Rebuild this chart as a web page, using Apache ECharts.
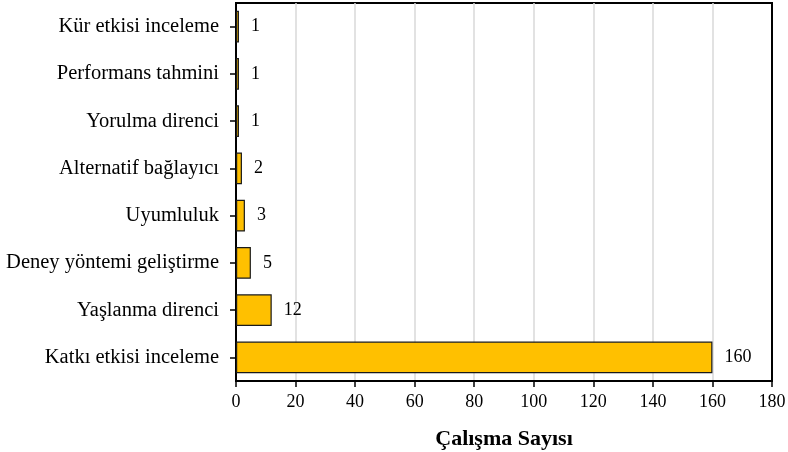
<!DOCTYPE html>
<html>
<head>
<meta charset="utf-8">
<script src="https://cdn.jsdelivr.net/npm/echarts@6/dist/echarts.min.js"></script>
<style>
  html, body { margin: 0; padding: 0; background: #ffffff; }
  #chart { width: 788px; height: 452px; }
</style>
</head>
<body>
<div id="chart"></div>
<script>
// Study topics (bottom to top) and number of studies for each
const categories = [
  'Katkı etkisi inceleme',
  'Yaşlanma direnci',
  'Deney yöntemi geliştirme',
  'Uyumluluk',
  'Alternatif bağlayıcı',
  'Yorulma direnci',
  'Performans tahmini',
  'Kür etkisi inceleme'
];
const studyCounts = [160, 12, 5, 3, 2, 1, 1, 1];
const xTicks = [0, 20, 40, 60, 80, 100, 120, 140, 160, 180];
const xTitle = 'Çalışma Sayısı';

const serif = '"Liberation Serif", "DejaVu Serif", serif';
const chart = echarts.init(document.getElementById('chart'));

chart.setOption({
  backgroundColor: '#ffffff',
  animation: false,
  grid: {
    left: 236, right: 16, top: 3, bottom: 71,
    show: true, borderColor: '#000000', borderWidth: 2,
    containLabel: false,
    outerBoundsMode: 'none'
  },
  xAxis: {
    type: 'value',
    min: xTicks[0],
    max: xTicks[xTicks.length - 1],
    interval: xTicks[1] - xTicks[0],
    name: xTitle,
    nameLocation: 'middle',
    nameGap: 47,
    nameTextStyle: { fontFamily: serif, fontSize: 22, fontWeight: 'bold', color: '#000000' },
    axisLine: { show: true, lineStyle: { color: '#000000', width: 2 } },
    axisTick: { show: true, length: 6, lineStyle: { color: '#000000', width: 1.5 } },
    axisLabel: { fontFamily: serif, fontSize: 18, color: '#000000', margin: 12 },
    splitLine: { show: true, showMinLine: false, showMaxLine: false, lineStyle: { color: '#d9d9d9', width: 1.5 } }
  },
  yAxis: {
    type: 'category',
    data: categories,
    axisLine: { show: true, lineStyle: { color: '#000000', width: 2 } },
    axisTick: { show: true, alignWithLabel: true, length: 6, lineStyle: { color: '#000000', width: 1.5 } },
    axisLabel: { fontFamily: serif, fontSize: 20.5, color: '#000000', margin: 17 },
    splitLine: { show: false }
  },
  series: [{
    type: 'bar',
    data: studyCounts,
    barCategoryGap: '33%',
    itemStyle: { color: '#FFC000', borderColor: '#1a1a1a', borderWidth: 1.2 },
    label: {
      show: true,
      position: 'right',
      distance: 12,
      fontFamily: serif,
      fontSize: 18,
      color: '#000000'
    }
  }]
});
</script>
</body>
</html>
